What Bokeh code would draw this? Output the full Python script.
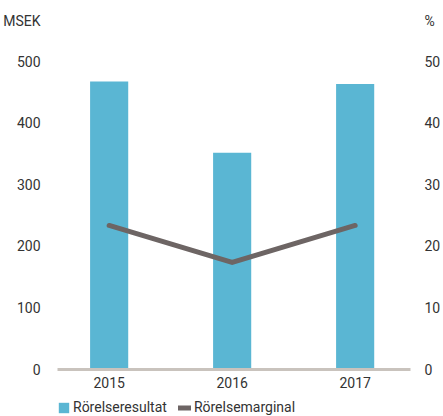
from bokeh.plotting import figure
from bokeh.layouts import column
from bokeh.models import (Range1d, LinearAxis, Legend, LegendItem, FixedTicker,
                          PrintfTickFormatter)
from bokeh.embed import file_html
from bokeh.resources import INLINE

years = [2015, 2016, 2017]
rorelseresultat = [468, 352, 464]
rorelsemarginal = [23.4, 17.4, 23.4]
left_ticks = [0, 100, 200, 300, 400, 500]
right_ticks = [0, 10, 20, 30, 40, 50]
left_unit = "MSEK"
right_unit = "%"
series_names = ["Rörelseresultat", "Rörelsemarginal"]

# axis headroom: the unit captions sit on the top edge of the plot area
LEFT_TOP = 567
RIGHT_TOP = 56.7

BAR = "#5ab6d3"
LINE = "#6d6564"
AXIS = "#c9c3bd"
TXT = "#333333"
FONT = "Roboto"
FS = "14px"

W = 443
H_MAIN = 397
H_LEG = 416 - H_MAIN
X_START, X_END = 2014.58, 2017.45

p = figure(width=W, height=H_MAIN, output_backend="svg", toolbar_location=None,
           title=None,
           x_range=Range1d(X_START, X_END), y_range=Range1d(0, LEFT_TOP),
           min_border_left=57, min_border_right=30, min_border_top=20,
           min_border_bottom=28, outline_line_color=None, y_axis_location=None)
p.extra_y_ranges = {"pct": Range1d(0, RIGHT_TOP)}
p.xgrid.visible = False
p.ygrid.visible = False

p.vbar(x=years, top=rorelseresultat, width=0.31, color=BAR, line_color=None)
p.line(x=years, y=rorelsemarginal, y_range_name="pct", line_color=LINE,
       line_width=5, line_join="miter", line_cap="round")


def plain(ax, standoff):
    ax.axis_line_color = None
    ax.major_tick_line_color = None
    ax.minor_tick_line_color = None
    ax.major_tick_out = 0
    ax.major_tick_in = 0
    ax.minor_tick_out = 0
    ax.major_label_standoff = standoff
    ax.major_label_text_font = FONT
    ax.major_label_text_font_size = FS
    ax.major_label_text_color = TXT


xa = p.xaxis[0]
plain(xa, 7)
xa.ticker = FixedTicker(ticks=years)
xa.formatter = PrintfTickFormatter(format="%d")
xa.axis_line_color = AXIS
xa.axis_line_width = 3

la = LinearAxis(ticker=FixedTicker(ticks=left_ticks + [LEFT_TOP]),
                major_label_overrides={LEFT_TOP: left_unit})
plain(la, 17)
ra = LinearAxis(y_range_name="pct", ticker=FixedTicker(ticks=right_ticks + [RIGHT_TOP]),
                major_label_overrides={RIGHT_TOP: right_unit})
plain(ra, 14)
p.add_layout(la, "left")
p.add_layout(ra, "right")

# legend strip below the chart; its renderers carry the same data but lie
# below this strip's y range, so only their legend swatches are visible
q = figure(width=W, height=H_LEG, output_backend="svg", toolbar_location=None,
           title=None, x_range=Range1d(X_START, X_END), y_range=Range1d(1000, 3000),
           min_border_left=57, min_border_right=30, min_border_top=0,
           min_border_bottom=0, outline_line_color=None,
           x_axis_location=None, y_axis_location=None)
q.xgrid.visible = False
q.ygrid.visible = False
lb = q.vbar(x=years, top=rorelseresultat, width=0.31, color=BAR, line_color=None)
ll = q.line(x=years, y=rorelsemarginal, line_color=LINE, line_width=5,
            line_cap="round")

legend = Legend(items=[LegendItem(label=series_names[0], renderers=[lb]),
                       LegendItem(label=series_names[1], renderers=[ll])],
                location=(0, 1), orientation="horizontal",
                glyph_width=13, glyph_height=13, label_height=15,
                label_standoff=3, spacing=11,
                padding=0, margin=0, border_line_color=None,
                background_fill_alpha=0,
                label_text_font=FONT, label_text_font_size=FS,
                label_text_color=TXT)
q.add_layout(legend, "center")

page = column(p, q, spacing=0)
open("out.html", "w").write(file_html(page, INLINE))
